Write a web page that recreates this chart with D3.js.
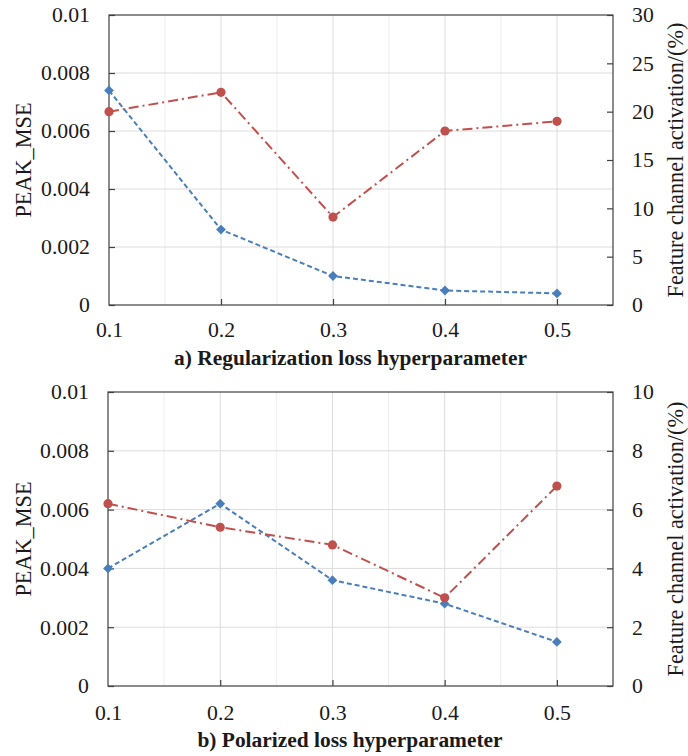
<!DOCTYPE html>
<html>
<head>
<meta charset="utf-8">
<script src="https://cdn.jsdelivr.net/npm/d3@7"></script>
<style>
  html, body { margin: 0; padding: 0; background: #ffffff; }
  svg { display: block; }
  text { font-family: "Liberation Serif", "DejaVu Serif", "Tinos", "Times New Roman", serif; fill: #1a1a1a; }
</style>
</head>
<body>
<svg id="chart" width="688" height="756"></svg>
<script>
// ---- data ----
const xValues = [0.1, 0.2, 0.3, 0.4, 0.5];
const xTickValues = [0.1, 0.2, 0.3, 0.4, 0.5];
const xMinorGrid = [0.15, 0.25, 0.35, 0.45];
const leftTickValues = [0, 0.002, 0.004, 0.006, 0.008, 0.01];

const regMse = [0.0074, 0.0026, 0.001, 0.0005, 0.0004];
const regActivation = [20, 22, 9.1, 18, 19];
const regRightTicks = [0, 5, 10, 15, 20, 25, 30];

const polMse = [0.004, 0.0062, 0.0036, 0.0028, 0.0015];
const polActivation = [6.2, 5.4, 4.8, 3.0, 6.8];
const polRightTicks = [0, 2, 4, 6, 8, 10];

const leftTitle = "PEAK_MSE";
const rightTitle = "Feature channel activation/(%)";
const panelTitles = ["a) Regularization loss hyperparameter", "b) Polarized loss hyperparameter"];

// ---- styling ----
const blue = "#4a7ebb";
const red = "#c0504d";
const axisColor = "#404040";
const serifStack = '"Liberation Serif", "DejaVu Serif", "Tinos", "Times New Roman", serif';

const svg = d3.select("#chart");

// measure a string at 100px to pick font sizes that match the reference widths
function fitSize(str, targetWidth, weight) {
  const t = svg.append("text").attr("font-size", 100).attr("font-family", serifStack)
    .attr("font-weight", weight || "normal").text(str);
  const w = t.node().getComputedTextLength();
  t.remove();
  return 100 * targetWidth / w;
}
const tickSize = fitSize("0.008", 49);
const axisTitleSize = fitSize(rightTitle, 275);
const panelTitleSize = fitSize(panelTitles[0], 353, "bold");

function drawPanel(cfg) {
  const { left, right, top, bottom, mse, act, rightTicks, title, titleX, titleY, tickBaselinePad } = cfg;
  const g = svg.append("g");

  const x = d3.scaleLinear().domain([0.1, 0.55]).range([left, right]);
  const yL = d3.scaleLinear().domain([0, 0.01]).range([bottom, top]);
  const yR = d3.scaleLinear().domain([0, d3.max(rightTicks)]).range([bottom, top]);

  // grid
  g.append("g").selectAll("line").data(xMinorGrid).join("line")
    .attr("x1", d => x(d)).attr("x2", d => x(d)).attr("y1", top).attr("y2", bottom)
    .attr("stroke", "#eeeeee").attr("stroke-width", 1);
  g.append("g").selectAll("line").data(xTickValues.slice(1)).join("line")
    .attr("x1", d => x(d)).attr("x2", d => x(d)).attr("y1", top).attr("y2", bottom)
    .attr("stroke", "#dcdcdc").attr("stroke-width", 1);
  g.append("g").selectAll("line").data(leftTickValues.slice(1, -1)).join("line")
    .attr("x1", left).attr("x2", right).attr("y1", d => yL(d)).attr("y2", d => yL(d))
    .attr("stroke", "#dcdcdc").attr("stroke-width", 1);

  // frame
  g.append("rect").attr("x", left).attr("y", top).attr("width", right - left).attr("height", bottom - top)
    .attr("fill", "none").attr("stroke", axisColor).attr("stroke-width", 1.2);

  const fmtL = d => d === 0 ? "0" : d3.format(".3~f")(d);

  const axL = g.append("g").attr("transform", `translate(${left},0)`)
    .call(d3.axisLeft(yL).tickValues(leftTickValues).tickFormat(fmtL).tickSizeInner(-6).tickSizeOuter(0).tickPadding(19));
  const axR = g.append("g").attr("transform", `translate(${right},0)`)
    .call(d3.axisRight(yR).tickValues(rightTicks).tickFormat(d3.format("d")).tickSizeInner(-6).tickSizeOuter(0).tickPadding(19));
  const axB = g.append("g").attr("transform", `translate(0,${bottom})`)
    .call(d3.axisBottom(x).tickValues(xTickValues).tickFormat(d3.format(".1f")).tickSizeInner(-6).tickSizeOuter(0).tickPadding(tickBaselinePad));

  [axL, axR, axB].forEach(a => {
    a.attr("font-family", serifStack);
    a.select(".domain").remove();
    a.selectAll(".tick line").attr("stroke", axisColor).attr("stroke-width", 1.2);
    a.selectAll(".tick text").attr("font-size", tickSize).attr("fill", "#1a1a1a");
  });
  axB.selectAll(".tick").filter(d => d === 0.1).select("line").remove();

  // lines
  const lineL = d3.line().x((d, i) => x(xValues[i])).y(d => yL(d));
  const lineR = d3.line().x((d, i) => x(xValues[i])).y(d => yR(d));

  g.append("path").datum(mse).attr("d", lineL).attr("fill", "none")
    .attr("stroke", blue).attr("stroke-width", 2).attr("stroke-dasharray", "5,3");
  g.append("g").selectAll("path").data(mse).join("path")
    .attr("d", d3.symbol(d3.symbolSquare, 48))
    .attr("transform", (d, i) => `translate(${x(xValues[i])},${yL(d)}) rotate(45)`)
    .attr("fill", blue);

  g.append("path").datum(act).attr("d", lineR).attr("fill", "none")
    .attr("stroke", red).attr("stroke-width", 2).attr("stroke-dasharray", "10,4,2,4");
  g.append("g").selectAll("circle").data(act).join("circle")
    .attr("cx", (d, i) => x(xValues[i])).attr("cy", d => yR(d)).attr("r", 4.6)
    .attr("fill", red);

  // axis titles
  g.append("text").attr("transform", `translate(31,${(top + bottom) / 2}) rotate(-90)`)
    .attr("text-anchor", "middle").attr("font-size", axisTitleSize).text(leftTitle);
  g.append("text").attr("transform", `translate(683,${(top + bottom) / 2}) rotate(-90)`)
    .attr("text-anchor", "middle").attr("font-size", axisTitleSize).text(rightTitle);

  g.append("text").attr("x", titleX).attr("y", titleY).attr("text-anchor", "middle")
    .attr("font-size", panelTitleSize).attr("font-weight", "bold").attr("fill", "#111").text(title);
}

drawPanel({ left: 109, right: 613, top: 15, bottom: 305, mse: regMse, act: regActivation,
  rightTicks: regRightTicks, title: panelTitles[0], titleX: 350.5, titleY: 365, tickBaselinePad: 17 });
drawPanel({ left: 108, right: 613, top: 392, bottom: 686, mse: polMse, act: polActivation,
  rightTicks: polRightTicks, title: panelTitles[1], titleX: 350, titleY: 747, tickBaselinePad: 19 });
</script>
</body>
</html>
